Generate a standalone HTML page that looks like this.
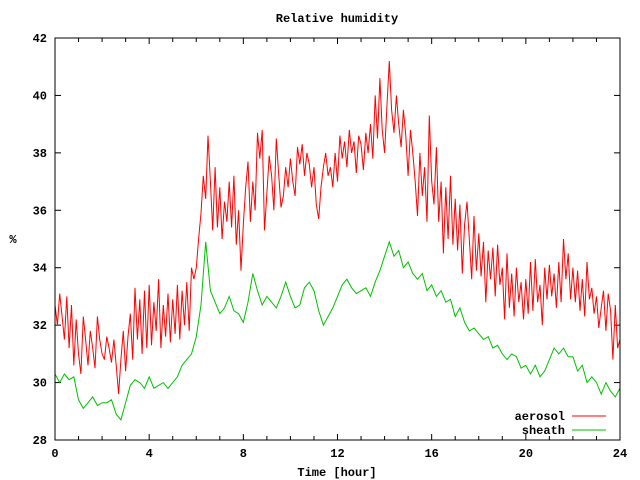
<!DOCTYPE html>
<html><head><meta charset="utf-8"><style>
body{margin:0;background:#fff}
svg{display:block;font-family:"Liberation Mono","DejaVu Sans Mono",monospace;font-size:12px;font-weight:bold}
</style></head><body>
<svg id="chart" width="640" height="480">
<rect width="640" height="480" fill="#fff"/>
<text x="337" y="22" text-anchor="middle">Relative humidity</text>
<text x="337" y="476" text-anchor="middle">Time [hour]</text>
<text x="13" y="243" text-anchor="middle">%</text>
<g id="axes"></g>
<g id="series"></g>
<g>
<text x="565" y="420" text-anchor="end">aerosol</text>
<line x1="572" y1="416" x2="606" y2="416" stroke="#ff0000"/>
<text x="565" y="434" text-anchor="end">sheath</text>
<line x1="572" y1="430" x2="606" y2="430" stroke="#00c000"/>
</g>
<rect x="55" y="38" width="565" height="402" fill="none" stroke="#000"/>
</svg>
<script>
const xTicks=[0,4,8,12,16,20,24];
const yTicks=[28,30,32,34,36,38,40,42];
const aerosol=[
32.7,32.0,33.1,32.3,31.5,33.0,31.2,32.7,30.6,32.2,
31.0,30.3,32.3,31.5,30.6,31.8,31.2,30.5,32.3,31.5,
31.0,30.8,31.6,31.2,30.7,31.5,30.6,29.6,30.8,31.8,
30.4,31.6,32.4,30.8,33.3,31.5,32.9,31.0,33.2,31.2,
33.4,31.3,32.8,31.8,33.6,31.2,32.7,31.6,33.1,31.4,
32.9,31.7,33.4,31.5,33.2,32.0,33.5,31.8,34.0,33.6,
34.0,35.0,35.9,37.2,36.4,38.6,37.0,35.3,37.5,35.4,
36.8,35.0,36.3,35.6,37.0,35.4,37.2,34.8,36.0,33.9,
35.5,36.8,37.7,35.6,37.0,36.0,38.7,37.8,38.8,35.3,
36.6,37.9,37.2,36.0,38.5,37.3,36.1,36.5,37.5,36.8,
37.8,37.0,36.5,38.2,37.6,38.3,37.2,38.0,37.6,36.8,
37.5,36.2,35.7,36.8,37.5,38.0,37.2,37.5,36.8,38.0,
37.0,38.6,37.8,38.4,37.5,38.8,38.0,38.4,37.3,38.6,
38.3,37.4,38.7,38.0,39.0,37.8,40.0,38.5,40.6,38.8,
38.0,39.6,41.2,39.5,38.7,40.0,39.0,38.2,39.5,38.6,
37.2,38.8,38.0,37.0,35.8,38.0,36.5,37.5,35.6,39.3,
37.0,36.2,38.2,35.6,37.0,34.5,36.8,35.0,37.2,34.8,
36.4,34.6,36.2,33.8,35.5,36.3,35.0,33.6,35.8,33.9,
35.2,33.7,34.9,32.8,34.6,33.6,34.7,33.0,34.8,33.4,
34.0,32.2,34.5,32.6,33.8,32.3,34.0,32.8,33.5,32.2,
33.6,32.4,34.2,32.5,34.3,32.8,33.4,32.0,34.0,32.9,
34.1,33.0,33.8,32.6,34.2,32.8,35.0,33.6,34.5,32.9,
34.0,32.8,33.9,32.5,33.6,32.3,34.2,32.9,33.3,32.4,
33.0,31.9,32.6,33.2,31.8,33.1,32.5,30.8,32.7,31.2,
31.5];
const sheath=[
30.3,30.0,30.3,30.1,30.2,29.4,29.1,29.3,29.5,29.2,
29.3,29.3,29.4,28.9,28.7,29.3,29.9,30.1,30.0,29.8,
30.2,29.8,29.9,30.0,29.8,30.0,30.2,30.6,30.8,31.0,
31.6,32.7,34.9,33.2,32.8,32.4,32.6,33.0,32.5,32.4,
32.1,32.8,33.8,33.2,32.7,33.0,32.8,32.6,33.0,33.5,
33.0,32.6,32.7,33.3,33.5,33.2,32.5,32.0,32.3,32.6,
33.0,33.4,33.6,33.3,33.1,33.2,33.3,33.0,33.5,33.9,
34.4,34.9,34.4,34.6,34.0,34.2,33.8,33.6,33.8,33.2,
33.4,33.0,33.2,32.8,32.9,32.3,32.6,32.1,31.8,31.9,
31.7,31.5,31.6,31.2,31.3,31.0,30.8,31.0,30.9,30.5,
30.6,30.3,30.6,30.2,30.4,30.8,31.2,31.0,31.2,30.9,
30.9,30.4,30.6,30.0,30.2,30.0,29.6,30.0,29.7,29.5,
29.8];
const X0=55,X1=620,Y0=440,Y1=38;
function sx(h){return X0+(h-0)/(24-0)*(X1-X0);}
function sy(v){return Y0-(v-28)/(42-28)*(Y0-Y1);}
const NS="http://www.w3.org/2000/svg";
const axes=document.getElementById('axes');
function mk(tag,attrs,parent){const e=document.createElementNS(NS,tag);for(const k in attrs)e.setAttribute(k,attrs[k]);parent.appendChild(e);return e;}
for(let h=0;h<=24;h++){
  const x=sx(h);const major=h%4===0;const len=major?6:4;
  const t1=mk('line',{x1:x,y1:Y0,x2:x,y2:Y0-len,stroke:'#000'},axes);
  
  
  const t2=mk('line',{x1:x,y1:Y1,x2:x,y2:Y1+len,stroke:'#000'},axes);
  
  
}
xTicks.forEach(h=>{
  const t=mk('text',{x:sx(h),y:457,'text-anchor':'middle'},axes);t.textContent=h;
  
  
});
yTicks.forEach(v=>{
  const y=sy(v);
  const a=mk('line',{x1:X0,y1:y,x2:X0+6,y2:y,stroke:'#000'},axes);
  
  
  const b=mk('line',{x1:X1,y1:y,x2:X1-6,y2:y,stroke:'#000'},axes);
  
  
  const t=mk('text',{x:47,y:y+4,'text-anchor':'end'},axes);t.textContent=v;
  
  
});
const series=document.getElementById('series');
function drawLine(vals,color,name){
  const step=24/(vals.length-1);
  const pts=vals.map((v,i)=>sx(i*step).toFixed(1)+','+sy(v).toFixed(1)).join(' ');
  const p=mk('polyline',{points:pts,fill:'none',stroke:color,'stroke-width':1},series);
  
  
}
drawLine(sheath,'#00c000','sheath-line');
drawLine(aerosol,'#ff0000','aerosol-line');
</script>
</body></html>
